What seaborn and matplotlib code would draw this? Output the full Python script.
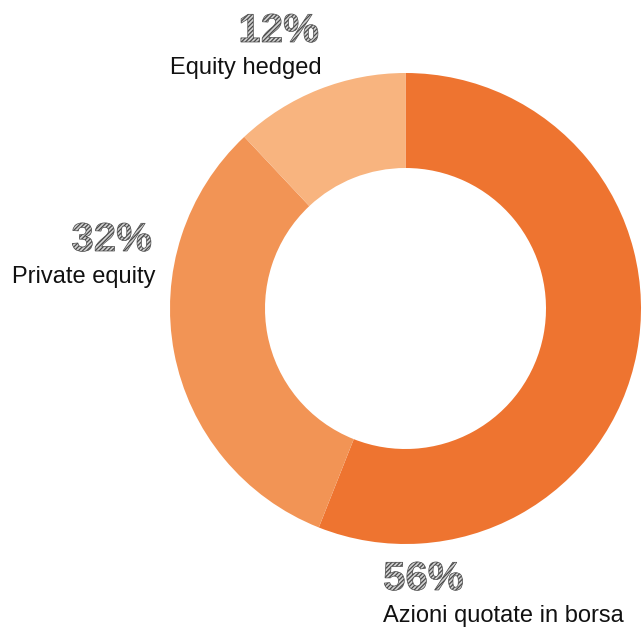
import matplotlib
matplotlib.use("Agg")
import matplotlib.pyplot as plt
import matplotlib.patheffects as pe
import seaborn as sns

# Portfolio split of the equity allocation
categories = ["Azioni quotate in borsa", "Private equity", "Equity hedged"]
shares = [56, 32, 12]
colors = ["#EE7430", "#F29455", "#F8B47F"]

sns.set_theme(style="white")
plt.rcParams["font.family"] = ["Liberation Sans", "DejaVu Sans"]
plt.rcParams["hatch.linewidth"] = 0.9

W, H = 643, 630
fig = plt.figure(figsize=(W / 100, H / 100), dpi=100)
ax = fig.add_axes([0, 0, 1, 1])

cx, cy, r = 405.5, H - 308.5, 235.5
ax.pie(shares, colors=colors, startangle=90, counterclock=False,
       center=(cx, cy), radius=r, frame=True,
       wedgeprops=dict(width=95, linewidth=0, antialiased=True))
ax.set_xlim(0, W)
ax.set_ylim(0, H)
ax.set_aspect("equal")
ax.axis("off")

# striped grey fill for the big percentage figures
hatch_fx = [pe.PathPatchEffect(facecolor="#d2d2d2", edgecolor="#4a4a4a",
                               hatch="////////", linewidth=0.5)]

# label anchors (x, baseline of the category name, alignment)
label_pos = {
    "Azioni quotate in borsa": (383, H - 622, "left"),
    "Private equity": (155, H - 283, "right"),
    "Equity hedged": (322, H - 74, "right"),
}

for name, val in zip(categories, shares):
    x, y, ha = label_pos[name]
    ax.text(x, y, name, ha=ha, va="baseline", fontsize=17, color="#111111")
    ax.text(x - (3 if ha == "right" else 0), y + 32, f"{val}%", ha=ha,
            va="baseline", fontsize=29, fontweight="bold", color="#999999",
            path_effects=hatch_fx)

fig.savefig("out.png", dpi=100, facecolor="white")
